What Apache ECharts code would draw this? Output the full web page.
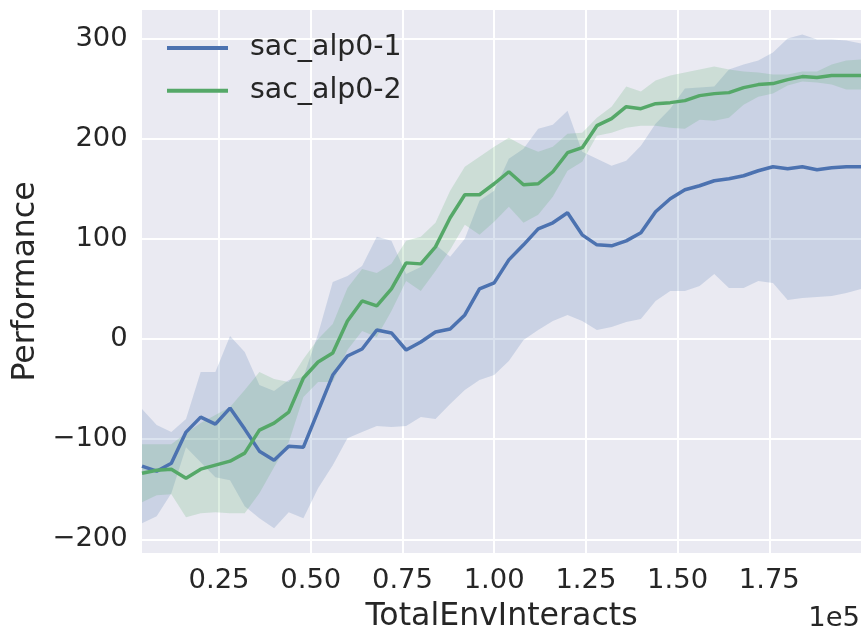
<!DOCTYPE html>
<html>
<head>
<meta charset="utf-8">
<script src="https://cdn.jsdelivr.net/npm/echarts@6/dist/echarts.min.js"></script>
<style>
  html, body { margin: 0; padding: 0; background: #ffffff; }
  #chart { width: 863px; height: 638px; }
</style>
</head>
<body>
<div id="chart"></div>
<script>
// Environment interaction counts (one evaluation every 4000 steps)
const steps = [4000, 8000, 12000, 16000, 20000, 24000, 28000, 32000, 36000, 40000,
  44000, 48000, 52000, 56000, 60000, 64000, 68000, 72000, 76000, 80000,
  84000, 88000, 92000, 96000, 100000, 104000, 108000, 112000, 116000, 120000,
  124000, 128000, 132000, 136000, 140000, 144000, 148000, 152000, 156000, 160000,
  164000, 168000, 172000, 176000, 180000, 184000, 188000, 192000, 196000, 200000];

// sac_alp0-1: mean and mean ± std
const alp1Mean = [-127, -132, -124, -93, -78, -85, -69, -90, -112, -121,
  -107, -108, -72, -36, -17, -10, 9, 6, -11, -3,
  7, 10, 24, 50, 56, 79, 94, 110, 116, 126,
  104, 94, 93, 98, 106, 127, 140, 149, 153, 158,
  160, 163, 168, 172, 170, 172, 169, 171, 172, 172];
const alp1Low = [-184, -177, -154, -108, -123, -138, -141, -167, -179, -189,
  -173, -179, -149, -126, -99, -93, -87, -88, -87, -78,
  -80, -65, -51, -41, -36, -22, -1, 9, 18, 24,
  18, 9, 12, 17, 20, 38, 48, 48, 53, 65,
  51, 51, 58, 56, 39, 41, 42, 43, 46, 50];
const alp1High = [-70, -86, -93, -80, -33, -33, 3, -13, -46, -52,
  -41, -38, 5, 57, 63, 73, 102, 98, 65, 72,
  94, 82, 100, 138, 148, 180, 190, 210, 214, 228,
  187, 180, 173, 178, 193, 215, 230, 250, 251, 252,
  269, 274, 278, 286, 300, 304, 299, 299, 298, 295];

// sac_alp0-2: mean and mean ± std
const alp2Mean = [-134, -131, -130, -139, -130, -126, -122, -114, -91, -84,
  -73, -39, -23, -14, 18, 38, 33, 50, 76, 75,
  92, 121, 144, 144, 155, 167, 154, 155, 167, 186,
  191, 213, 220, 232, 230, 235, 236, 238, 243, 245,
  246, 251, 254, 255, 259, 262, 261, 263, 263, 263];
const alp2Low = [-163, -156, -155, -178, -174, -173, -174, -174, -154, -128,
  -103, -58, -43, -43, -11, 8, 2, 28, 58, 48,
  68, 89, 114, 104, 117, 132, 116, 124, 142, 168,
  177, 203, 206, 211, 213, 213, 211, 210, 219, 218,
  221, 234, 242, 245, 253, 257, 256, 254, 249, 249];
const alp2High = [-105, -105, -105, -94, -84, -76, -68, -51, -33, -40,
  -43, -20, 0, 15, 51, 70, 66, 75, 98, 102,
  116, 148, 172, 182, 192, 201, 193, 187, 192, 205,
  206, 221, 232, 252, 247, 258, 263, 266, 269, 272,
  269, 267, 266, 264, 264, 267, 267, 274, 278, 279];

const xTicks = [25000, 50000, 75000, 100000, 125000, 150000, 175000];
const yTicks = [-200, -100, 0, 100, 200, 300];

const BLUE = '#4C72B0';
const GREEN = '#55A868';
const TEXT = '#262626';
const FONT = 'DejaVu Sans';
const TICK_SIZE = 27.4;
const LEGEND_SIZE = 28.4;
const TITLE_SIZE = 31.6;

function pairs(ys) { return steps.map((x, i) => [x, ys[i]]); }

// Shaded std band drawn as one polygon through the axis scales
function bandSeries(name, lo, hi, rgba) {
  return {
    type: 'custom',
    name: name,
    silent: true,
    data: steps.map((x, i) => [x, lo[i], hi[i]]),
    encode: { x: 0, y: [1, 2] },
    renderItem: function (params, api) {
      if (params.dataIndex !== 0) return null;
      const pts = [];
      for (let i = 0; i < steps.length; i++) pts.push(api.coord([steps[i], hi[i]]));
      for (let i = steps.length - 1; i >= 0; i--) pts.push(api.coord([steps[i], lo[i]]));
      return { type: 'polygon', shape: { points: pts }, style: { fill: rgba } };
    }
  };
}

function lineSeries(name, ys, color) {
  return {
    type: 'line',
    name: name,
    data: pairs(ys),
    symbol: 'none',
    lineStyle: { color: color, width: 3.5 },
    itemStyle: { color: color },
    animation: false
  };
}

const chart = echarts.init(document.getElementById('chart'), null, { renderer: 'canvas' });
chart.setOption({
  animation: false,
  backgroundColor: '#ffffff',
  textStyle: { fontFamily: FONT, color: TEXT },
  grid: {
    left: 142, top: 10, width: 719, height: 548,
    show: true, backgroundColor: '#EAEAF2', borderWidth: 0
  },
  legend: {
    left: 167, top: 34, orient: 'vertical', padding: 0,
    itemWidth: 61, itemHeight: 4, itemGap: 14.7,
    icon: 'rect',
    data: ['sac_alp0-1', 'sac_alp0-2'],
    textStyle: { fontFamily: FONT, fontSize: LEGEND_SIZE, color: TEXT, lineHeight: 28, padding: [0, 0, 0, 17] }
  },
  xAxis: {
    type: 'value', min: 4000, max: 200000,
    name: 'TotalEnvInteracts', nameLocation: 'middle', nameGap: 48,
    nameTextStyle: { fontFamily: FONT, fontSize: TITLE_SIZE, color: TEXT },
    axisLine: { show: false },
    axisTick: { show: false, customValues: xTicks },
    axisLabel: {
      customValues: xTicks, margin: 14.5,
      fontFamily: FONT, fontSize: TICK_SIZE, color: TEXT,
      formatter: v => (v / 1e5).toFixed(2)
    },
    splitLine: { show: true, lineStyle: { color: '#ffffff', width: 2 } }
  },
  yAxis: {
    type: 'value', min: -213.7, max: 328.5,
    name: 'Performance', nameLocation: 'middle', nameGap: 99, nameRotate: 90,
    nameTextStyle: { fontFamily: FONT, fontSize: TITLE_SIZE, color: TEXT },
    axisLine: { show: false },
    axisTick: { show: false, customValues: yTicks },
    axisLabel: {
      customValues: yTicks, margin: 14.3, padding: [5, 0, 0, 0],
      fontFamily: FONT, fontSize: TICK_SIZE, color: TEXT,
      formatter: v => (v < 0 ? '\u2212' + Math.abs(v) : String(v))
    },
    splitLine: { show: true, lineStyle: { color: '#ffffff', width: 2 } }
  },
  graphic: [{
    type: 'text', right: 3, top: 605.6,
    style: { text: '1e5', fontFamily: FONT, fontSize: TICK_SIZE, fill: TEXT }
  }],
  series: [
    bandSeries('alp1-band', alp1Low, alp1High, 'rgba(76,114,176,0.2)'),
    lineSeries('sac_alp0-1', alp1Mean, BLUE),
    bandSeries('alp2-band', alp2Low, alp2High, 'rgba(85,168,104,0.2)'),
    lineSeries('sac_alp0-2', alp2Mean, GREEN)
  ]
});
</script>
</body>
</html>
